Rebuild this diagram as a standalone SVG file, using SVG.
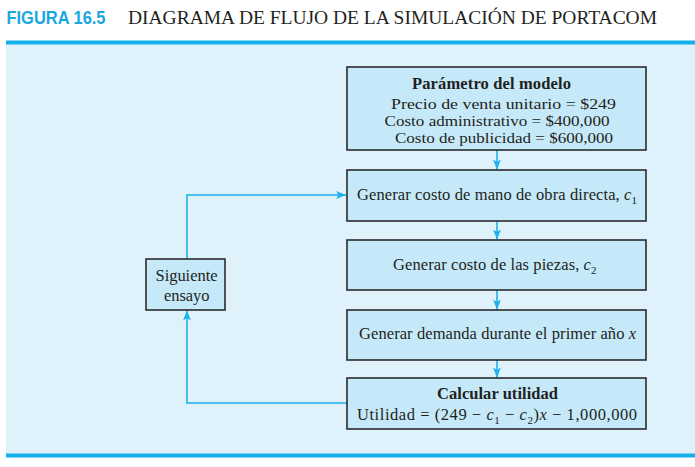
<svg xmlns="http://www.w3.org/2000/svg" width="695" height="467" viewBox="0 0 695 467">
<style>
.box{fill:#c6e9f9;stroke:#2b2b2b;stroke-width:1.6}
.t{font-family:"Liberation Serif","Times New Roman",serif;font-size:16.5px;fill:#231f20}
.s{font-size:15.5px}
.b{font-weight:bold}
.i{font-style:italic}
.conn{fill:none;stroke:#1cb1ea;stroke-width:1.6}
</style>
<defs>
<marker id="ah" viewBox="0 0 10 8" refX="10" refY="4" markerWidth="10" markerHeight="8" markerUnits="userSpaceOnUse" orient="auto">
<path d="M0,0 L10,4 L0,8 L2.5,4 Z" fill="#1cb1ea"/>
</marker>
</defs>
<rect x="0" y="0" width="695" height="467" fill="#ffffff"/>
<g id="title">
<text x="6.5" y="23.5" font-family="'Liberation Sans',Arial,sans-serif" font-weight="bold" font-size="19" fill="#1aa7e1" textLength="99" lengthAdjust="spacingAndGlyphs">FIGURA 16.5</text>
<text x="128" y="23.5" font-family="'Liberation Serif','Times New Roman',serif" font-size="19.5" fill="#231f20" textLength="529" lengthAdjust="spacingAndGlyphs">DIAGRAMA DE FLUJO DE LA SIMULACIÓN DE PORTACOM</text>
</g>
<rect x="6" y="44" width="689" height="410" fill="#dff2fc"/>
<rect x="6" y="40.5" width="689" height="4" fill="#14b0ea"/>
<rect x="6" y="453.5" width="689" height="4" fill="#14b0ea"/>
<g id="connectors">
<line class="conn" x1="497" y1="150" x2="497" y2="169.5" marker-end="url(#ah)"/>
<line class="conn" x1="497" y1="221" x2="497" y2="239.5" marker-end="url(#ah)"/>
<line class="conn" x1="497" y1="290" x2="497" y2="309.5" marker-end="url(#ah)"/>
<line class="conn" x1="497" y1="360" x2="497" y2="377.5" marker-end="url(#ah)"/>
<polyline class="conn" points="347,403 187,403 187,310.5" marker-end="url(#ah)"/>
<polyline class="conn" points="187,259 187,195 346,195" marker-end="url(#ah)"/>
</g>
<g id="parametros">
<rect class="box" x="347" y="67" width="299" height="83"/>
<text class="t b" x="412" y="88.5" textLength="159" lengthAdjust="spacing">Parámetro del modelo</text>
<text class="t s" x="391" y="108.5" textLength="225" lengthAdjust="spacingAndGlyphs">Precio de venta unitario&#160;=&#160;$249</text>
<text class="t s" x="384.5" y="125.5" textLength="225" lengthAdjust="spacingAndGlyphs">Costo administrativo&#160;=&#160;$400,000</text>
<text class="t s" x="395" y="142.5" textLength="218" lengthAdjust="spacingAndGlyphs">Costo de publicidad&#160;=&#160;$600,000</text>
</g>
<g id="mano_obra">
<rect class="box" x="347" y="170" width="299" height="51"/>
<text class="t" x="357" y="199.5" textLength="280" lengthAdjust="spacing">Generar costo de mano de obra directa, <tspan class="i">c</tspan><tspan font-size="11" dy="4">1</tspan></text>
</g>
<g id="piezas">
<rect class="box" x="347" y="240" width="299" height="50"/>
<text class="t" x="393" y="270" textLength="203.5" lengthAdjust="spacing">Generar costo de las piezas, <tspan class="i">c</tspan><tspan font-size="11" dy="4">2</tspan></text>
</g>
<g id="demanda">
<rect class="box" x="347" y="310" width="299" height="50"/>
<text class="t" x="359" y="339" textLength="277" lengthAdjust="spacing">Generar demanda durante el primer año <tspan class="i">x</tspan></text>
</g>
<g id="utilidad">
<rect class="box" x="347" y="378" width="299" height="51"/>
<text class="t b" x="437" y="398.5" textLength="121" lengthAdjust="spacing">Calcular utilidad</text>
<text class="t" x="357" y="420" textLength="280" lengthAdjust="spacing">Utilidad&#160;=&#160;(249&#160;−&#160;<tspan class="i">c</tspan><tspan font-size="11" dy="4">1</tspan><tspan dy="-4">&#160;−&#160;</tspan><tspan class="i">c</tspan><tspan font-size="11" dy="4">2</tspan><tspan dy="-4">)</tspan><tspan class="i">x</tspan>&#160;−&#160;1,000,000</text>
</g>
<g id="siguiente">
<rect class="box" x="146" y="259" width="79" height="51"/>
<text class="t" x="155.5" y="280.5" textLength="62" lengthAdjust="spacing">Siguiente</text>
<text class="t" x="164" y="300.5" textLength="45.5" lengthAdjust="spacing">ensayo</text>
</g>
</svg>
